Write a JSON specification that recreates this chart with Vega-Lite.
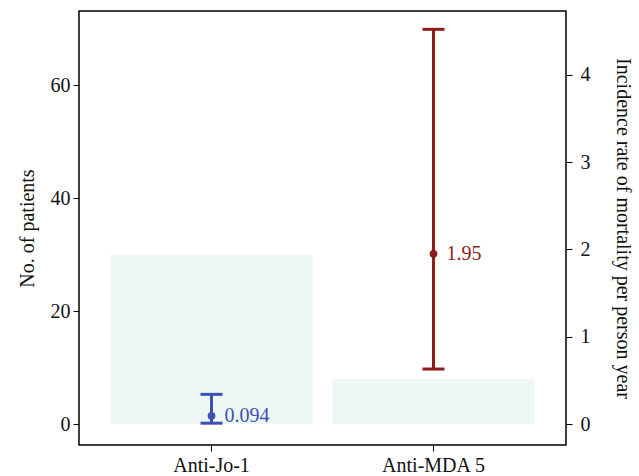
{
  "$schema": "https://vega.github.io/schema/vega-lite/v6.json",
  "autosize": "none",
  "width": 487,
  "height": 434,
  "padding": {"left": 79, "top": 11, "right": 73, "bottom": 31},
  "background": "white",
  "config": {
    "view": {"stroke": "#000000", "strokeWidth": 1.5},
    "font": "Liberation Serif",
    "axis": {
      "labelFont": "Liberation Serif",
      "titleFont": "Liberation Serif",
      "labelFontSize": 20,
      "titleFontSize": 20,
      "titleFontWeight": "normal",
      "labelColor": "#111111",
      "titleColor": "#111111",
      "tickColor": "#000000",
      "tickSize": 6,
      "grid": false,
      "domain": false
    }
  },
  "data": {
    "values": [
      {"group": "Anti-Jo-1", "patients": 30, "rate": 0.094, "lo": 0.01, "hi": 0.34, "label": "0.094"},
      {"group": "Anti-MDA 5", "patients": 8, "rate": 1.95, "lo": 0.63, "hi": 4.52, "label": "1.95"}
    ]
  },
  "encoding": {
    "x": {
      "field": "group",
      "type": "nominal",
      "sort": null,
      "scale": {"paddingInner": 0.09, "paddingOuter": 0.142},
      "axis": {"title": null, "labelAngle": 0, "labelPadding": 4}
    }
  },
  "layer": [
    {
      "mark": {"type": "bar", "color": "#edf7f5"},
      "encoding": {
        "y": {
          "field": "patients",
          "type": "quantitative",
          "scale": {"domain": [-3.7, 73.1], "nice": false, "zero": false},
          "axis": {"title": "No. of patients", "values": [0, 20, 40, 60], "orient": "left", "labelPadding": 3, "titlePadding": 13}
        },
        "y2": {"datum": 0}
      }
    },
    {
      "encoding": {
        "color": {
          "field": "group",
          "type": "nominal",
          "scale": {"domain": ["Anti-Jo-1", "Anti-MDA 5"], "range": ["#3f4fb2", "#8c1c19"]},
          "legend": null
        }
      },
      "layer": [
        {
          "mark": {"type": "rule", "strokeWidth": 3},
          "encoding": {
            "y": {
              "field": "lo",
              "type": "quantitative",
              "scale": {"domain": [-0.24, 4.73], "nice": false, "zero": false},
              "axis": {"title": "Incidence rate of mortality per person year", "values": [0, 1, 2, 3, 4], "format": "d", "orient": "right", "labelPadding": 8, "titlePadding": 22}
            },
            "y2": {"field": "hi"}
          }
        },
        {
          "mark": {"type": "tick", "size": 22, "thickness": 3, "orient": "horizontal", "opacity": 1},
          "encoding": {"y": {"field": "lo", "type": "quantitative"}}
        },
        {
          "mark": {"type": "tick", "size": 22, "thickness": 3, "orient": "horizontal", "opacity": 1},
          "encoding": {"y": {"field": "hi", "type": "quantitative"}}
        },
        {
          "mark": {"type": "point", "filled": true, "size": 60, "opacity": 1},
          "encoding": {"y": {"field": "rate", "type": "quantitative"}}
        },
        {
          "mark": {"type": "text", "align": "left", "baseline": "middle", "dx": 13, "fontSize": 20, "font": "Liberation Serif"},
          "encoding": {"y": {"field": "rate", "type": "quantitative"}, "text": {"field": "label"}}
        }
      ]
    }
  ],
  "resolve": {"scale": {"y": "independent"}}
}
